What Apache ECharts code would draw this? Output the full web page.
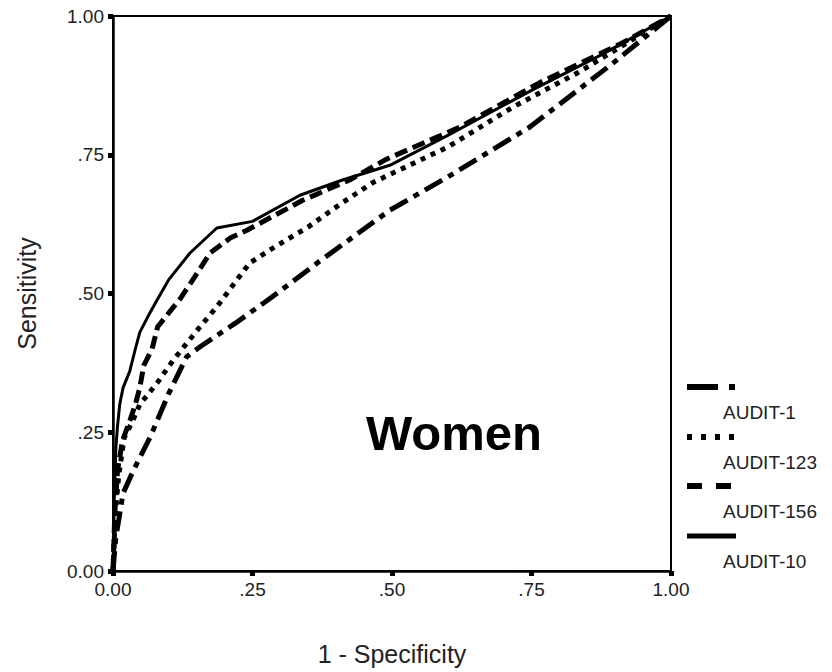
<!DOCTYPE html>
<html>
<head>
<meta charset="utf-8">
<script src="https://cdn.jsdelivr.net/npm/echarts@6/dist/echarts.min.js"></script>
<style>
html,body{margin:0;padding:0;background:#fff;}
#chart{width:832px;height:672px;}
</style>
</head>
<body>
<div id="chart"></div>
<script>
// ---- data ----
const seriesNames = ["AUDIT-1", "AUDIT-123", "AUDIT-156", "AUDIT-10"];
const tickValues = [0, 0.25, 0.5, 0.75, 1];
const tickLabels = ["0.00", ".25", ".50", ".75", "1.00"];
const xTitle = "1 - Specificity";
const yTitle = "Sensitivity";
const panelLabel = "Women";

const audit1 = [[0,0],[0.005,0.06],[0.01,0.09],[0.018,0.14],[0.036,0.18],[0.066,0.24],[0.10,0.32],[0.132,0.386],[0.156,0.404],[0.22,0.447],[0.28,0.49],[0.366,0.555],[0.496,0.65],[0.6,0.71],[0.747,0.80],[0.896,0.915],[1,1]];
const audit123 = [[0,0],[0.004,0.1],[0.01,0.17],[0.02,0.24],[0.035,0.27],[0.048,0.30],[0.08,0.34],[0.108,0.38],[0.132,0.41],[0.156,0.44],[0.186,0.476],[0.215,0.515],[0.245,0.555],[0.29,0.584],[0.35,0.62],[0.41,0.663],[0.466,0.70],[0.60,0.764],[0.717,0.836],[0.837,0.90],[1,1]];
const audit156 = [[0,0],[0.003,0.1],[0.008,0.18],[0.017,0.235],[0.03,0.27],[0.04,0.30],[0.048,0.33],[0.055,0.37],[0.07,0.40],[0.08,0.44],[0.12,0.49],[0.14,0.52],[0.174,0.573],[0.21,0.60],[0.24,0.614],[0.34,0.668],[0.425,0.705],[0.49,0.742],[0.622,0.80],[0.765,0.88],[0.91,0.95],[1,1]];
const audit10 = [[0,0],[0.002,0.12],[0.005,0.22],[0.008,0.26],[0.012,0.30],[0.018,0.33],[0.03,0.36],[0.04,0.40],[0.048,0.43],[0.066,0.465],[0.08,0.49],[0.10,0.525],[0.138,0.573],[0.186,0.618],[0.25,0.63],[0.335,0.677],[0.41,0.704],[0.496,0.731],[0.6,0.785],[0.75,0.866],[0.875,0.93],[1,1]];

// ---- styles ----
const FONT = "'Liberation Sans', Arial, sans-serif";
const dashStyles = {
  "AUDIT-1": { width: 5, type: [20, 7, 6, 7] },
  "AUDIT-123": { width: 5, type: [5, 6] },
  "AUDIT-156": { width: 5, type: [13, 6] },
  "AUDIT-10": { width: 3, type: 'solid' }
};
const legendDash = {
  "AUDIT-1": [31, 11, 6, 20],
  "AUDIT-123": [5, 9],
  "AUDIT-156": [15, 14],
  "AUDIT-10": null
};
const legendWidth = { "AUDIT-1": 6, "AUDIT-123": 6, "AUDIT-156": 6, "AUDIT-10": 5 };

const dataMap = { "AUDIT-1": audit1, "AUDIT-123": audit123, "AUDIT-156": audit156, "AUDIT-10": audit10 };

const chart = echarts.init(document.getElementById('chart'), null, { renderer: 'svg' });

const axisCommon = {
  type: 'value', min: 0, max: 1, interval: 0.25,
  axisLine: { show: true, lineStyle: { color: '#000', width: 2.5 } },
  axisTick: { show: true, inside: false, length: 5, lineStyle: { color: '#000', width: 5 } },
  splitLine: { show: false },
  axisLabel: {
    color: '#222', fontFamily: FONT, fontSize: 19, margin: 9,
    formatter: function (v) { const i = tickValues.indexOf(Math.round(v * 100) / 100); return i >= 0 ? tickLabels[i] : ''; }
  },
  nameLocation: 'middle',
  nameTextStyle: { color: '#222', fontFamily: FONT, fontSize: 25 }
};

const legendGraphics = [];
const legendY = [387, 437, 486, 536];
seriesNames.forEach(function (n, i) {
  const st = { stroke: '#000', lineWidth: legendWidth[n], lineCap: 'butt' };
  if (legendDash[n]) st.lineDash = legendDash[n];
  legendGraphics.push({
    type: 'line', shape: { x1: 687, y1: legendY[i], x2: 736, y2: legendY[i] }, style: st, silent: true
  });
  legendGraphics.push({
    type: 'text', x: 723, y: legendY[i] + 25,
    style: { text: n, fill: '#222', font: '19px ' + FONT, textVerticalAlign: 'middle', textAlign: 'left' }, silent: true
  });
});

const option = {
  backgroundColor: '#fff',
  animation: false,
  grid: { left: 113, right: 161, top: 16, bottom: 101, show: true, borderColor: '#000', borderWidth: 2, backgroundColor: 'transparent' },
  xAxis: Object.assign({}, axisCommon, { name: xTitle, nameGap: 70 }),
  yAxis: Object.assign({}, axisCommon, { name: yTitle, nameGap: 74, nameRotate: 90 }),
  series: seriesNames.map(function (n) {
    return {
      name: n, type: 'line', data: dataMap[n], showSymbol: false, symbol: 'none', smooth: false,
      lineStyle: { color: '#000', width: dashStyles[n].width, type: dashStyles[n].type, cap: 'butt', join: 'round' },
      z: 3
    };
  }),
  graphic: [
    {
      type: 'text', x: 454, y: 433,
      style: { text: panelLabel, fill: '#000', font: 'bold 49px ' + FONT, textAlign: 'center', textVerticalAlign: 'middle' },
      silent: true
    }
  ].concat(legendGraphics)
};
chart.setOption(option);
</script>
</body>
</html>
